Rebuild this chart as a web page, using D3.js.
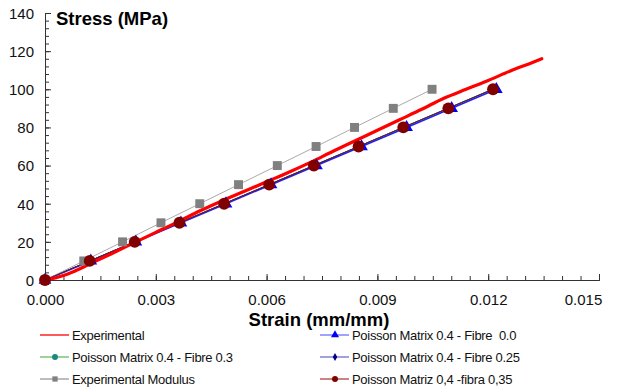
<!DOCTYPE html>
<html>
<head>
<meta charset="utf-8">
<script src="https://cdnjs.cloudflare.com/ajax/libs/d3/7.8.5/d3.min.js"></script>
<style>
  body { margin: 0; background: #fff; }
  svg { font-family: Arial, "Liberation Sans", sans-serif; }
</style>
</head>
<body>
<svg id="chart"></svg>
<script>
// data
var stressLevels = [0, 10, 20, 30, 40, 50, 60, 70, 80, 90, 100]

var expStrain = [0, 0.0003, 0.0006, 0.0009, 0.0012, 0.0018, 0.0024, 0.003, 0.0036, 0.0042, 0.0048, 0.0054, 0.006,
                 0.0066, 0.0072, 0.0078, 0.0084, 0.009, 0.0096, 0.0102, 0.0108, 0.0114, 0.012, 0.0126, 0.0131, 0.01345]
var expStress = [0, 1.2, 3.0, 5.5, 8.3, 13.8, 19.4, 25, 30.5, 36.3, 41.6, 46.5, 51.5,
                 56.5, 61.8, 67.5, 73, 78.5, 84, 89.5, 95.3, 100, 104.6, 109.6, 113.3, 116]

var modulusStrain = [0, 0.00105, 0.0021, 0.00314, 0.00419, 0.00524, 0.00629, 0.00734, 0.00838, 0.00943, 0.01048]
var fibre00Strain = [0, 0.00124, 0.00246, 0.00368, 0.0049, 0.00612, 0.00735, 0.00857, 0.00979, 0.01101, 0.01222]
var fibre03Strain = [0, 0.00121, 0.00242, 0.00363, 0.00485, 0.00606, 0.00727, 0.00848, 0.00969, 0.0109, 0.01211]
var fibre025Strain = [0, 0.00121, 0.00242, 0.00364, 0.00485, 0.00606, 0.00727, 0.00849, 0.0097, 0.01091, 0.01212]
var fibre035Strain = [0, 0.00121, 0.00243, 0.00364, 0.00485, 0.00607, 0.00728, 0.00849, 0.0097, 0.01092, 0.01213]

var xTicks = [0, 0.003, 0.006, 0.009, 0.012, 0.015]
var yTicks = [0, 20, 40, 60, 80, 100, 120, 140]

var screen = {width: 617, height: 389}
var margins = {top: 13, right: 18, bottom: 109, left: 45}
var width = screen.width - margins.left - margins.right   // 554
var height = screen.height - margins.top - margins.bottom  // 267

var svg = d3.select("#chart")
    .attr("width", screen.width)
    .attr("height", screen.height)

var xScale = d3.scaleLinear().domain([0, 0.015]).range([0, width])
var yScale = d3.scaleLinear().domain([0, 140]).range([height, 0])

var graph = svg.append("g")
    .attr("transform", "translate(" + margins.left + "," + margins.top + ")")

// axes - ticks point into the plot
var xMinor = d3.range(0, 0.01501, 0.0005)
var yMinor = d3.range(0, 140.1, 4)

var xAxisG = graph.append("g").attr("transform", "translate(0," + height + ")")
xAxisG.call(d3.axisBottom(xScale).tickValues(xMinor).tickSize(-4).tickFormat(""))
xAxisG.append("g").call(d3.axisBottom(xScale).tickValues(xTicks).tickSize(-6).tickPadding(14).tickFormat(d3.format(".3f")))

var yAxisG = graph.append("g")
yAxisG.call(d3.axisLeft(yScale).tickValues(yMinor).tickSize(-4).tickFormat(""))
yAxisG.append("g").call(d3.axisLeft(yScale).tickValues(yTicks).tickSize(-6).tickPadding(11).tickFormat(d3.format("d")))

graph.selectAll(".domain").attr("stroke", "#333")
graph.selectAll(".tick line").attr("stroke", "#333")
graph.selectAll(".tick text").attr("font-size", "15px").attr("fill", "#111").attr("font-family", "Arial, 'Liberation Sans', sans-serif")
// last x label is pulled inside the frame like the original
xAxisG.selectAll(".tick text").filter(function(d){ return d === 0.015 }).attr("dx", -16)
yAxisG.selectAll(".tick text").attr("dy", "0.36em")

// axis titles
svg.append("text").attr("x", 56).attr("y", 25)
    .attr("font-size", "18.5px").attr("font-weight", "bold").text("Stress (MPa)")
svg.append("text").attr("x", 319).attr("y", 326).attr("text-anchor", "middle")
    .attr("font-size", "18.5px").attr("font-weight", "bold").text("Strain (mm/mm)")

var line = d3.line().x(function(d){ return xScale(d[0]) }).y(function(d){ return yScale(d[1]) })
var pairs = function(xs, ys){ return xs.map(function(x, i){ return [x, ys[i]] }) }

var series = [
    {name: "Poisson Matrix 0.4 - Fibre 0.3", xs: fibre03Strain, line: "#3a9a5a", lw: 1, marker: "circle", fill: "#1a8a7a", size: 40},
    {name: "Poisson Matrix 0.4 - Fibre 0.25", xs: fibre025Strain, line: "#2a2a8a", lw: 1, marker: "diamond", fill: "#000080", size: 30},
    {name: "Poisson Matrix 0.4 - Fibre  0.0", xs: fibre00Strain, line: "#2020ff", lw: 1.6, marker: "triangle", fill: "#0000ff", size: 70},
    {name: "Experimental Modulus", xs: modulusStrain, line: "#aaaaaa", lw: 1, marker: "square", fill: "#808080", size: 80},
    {name: "Poisson Matriz 0,4 -fibra 0,35", xs: fibre035Strain, line: "#6a1a1a", lw: 1, marker: "circle", fill: "#800000", size: 110}
]
var symbols = {triangle: d3.symbolTriangle, circle: d3.symbolCircle, diamond: d3.symbolDiamond, square: d3.symbolSquare}

series.forEach(function(s){
    var pts = pairs(s.xs, stressLevels)
    graph.append("path").datum(pts).attr("d", line)
        .attr("fill", "none").attr("stroke", s.line).attr("stroke-width", s.lw)
})

// experimental curve
graph.append("path").datum(pairs(expStrain, expStress)).attr("d", line.curve(d3.curveCatmullRom))
    .attr("fill", "none").attr("stroke", "#ff0000").attr("stroke-width", 3.2).attr("stroke-linecap", "round")
line.curve(d3.curveLinear)

series.forEach(function(s){
    var pts = pairs(s.xs, stressLevels)
    graph.selectAll(null).data(pts).enter().append("path")
        .attr("transform", function(d){ return "translate(" + xScale(d[0]) + "," + yScale(d[1]) + ")" })
        .attr("d", d3.symbol().type(symbols[s.marker]).size(s.size))
        .attr("fill", s.fill)
})

// legend
var legendItems = [
    {name: "Experimental", line: "#ff0000", marker: null, col: 0, row: 0},
    {name: "Poisson Matrix 0.4 - Fibre  0.0", line: "#6f6fff", marker: "triangle", fill: "#0000ff", col: 1, row: 0},
    {name: "Poisson Matrix 0.4 - Fibre 0.3", line: "#66bb66", marker: "circle", fill: "#1a8a7a", col: 0, row: 1},
    {name: "Poisson Matrix 0.4 - Fibre 0.25", line: "#6f6fcf", marker: "diamond", fill: "#000080", col: 1, row: 1},
    {name: "Experimental Modulus", line: "#999999", marker: "square", fill: "#808080", col: 0, row: 2},
    {name: "Poisson Matriz 0,4 -fibra 0,35", line: "#b04040", marker: "circle", fill: "#800000", col: 1, row: 2}
]
var colX = [40, 320]
var gs = svg.append("g").selectAll("g").data(legendItems).enter().append("g")
    .attr("transform", function(d){ return "translate(" + colX[d.col] + "," + (335 + d.row * 22) + ")" })
gs.append("line").attr("x1", 0).attr("x2", 29).attr("stroke", function(d){ return d.line }).attr("stroke-width", 1.3)
gs.filter(function(d){ return d.marker }).append("path")
    .attr("transform", "translate(15,0)")
    .attr("d", function(d){ return d3.symbol().type(symbols[d.marker]).size(d.marker === "diamond" ? 18 : 28)() })
    .attr("fill", function(d){ return d.fill })
gs.append("text").attr("x", 32).attr("y", 5).attr("font-size", "13px").attr("fill", "#111")
    .attr("letter-spacing", "-0.3px")
    .text(function(d){ return d.name }).style("white-space", "pre")
</script>
</body>
</html>
